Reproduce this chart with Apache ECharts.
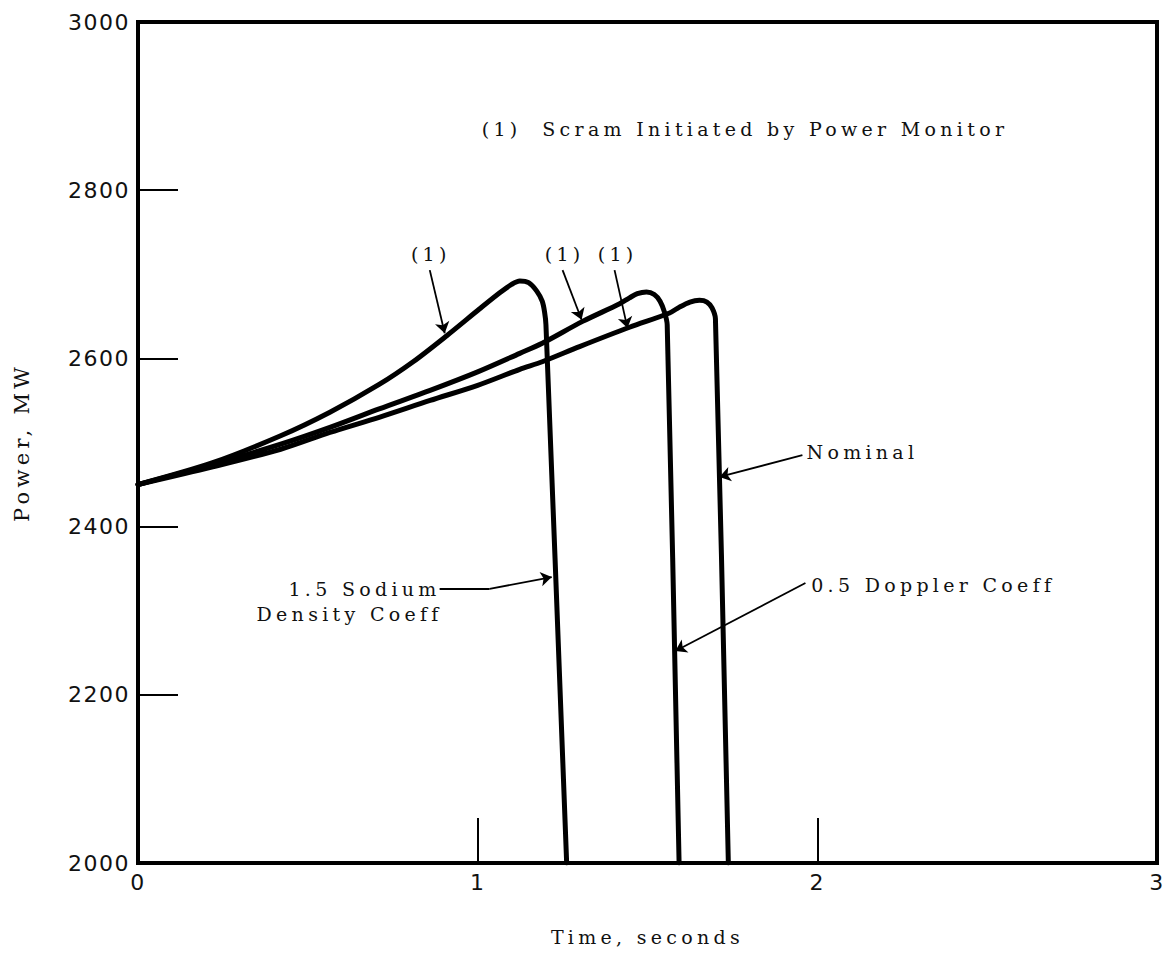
<!DOCTYPE html>
<html><head><meta charset="utf-8">
<script src="https://cdn.jsdelivr.net/npm/echarts@6/dist/echarts.min.js"></script>
<style>
html,body{margin:0;padding:0;background:#fff}
#c{width:1167px;height:953px}
#c text[style*="Serif"]{letter-spacing:4.3px;font-family:"DejaVu Serif",serif !important}
#c text[style*="DejaVu Sans"]{letter-spacing:1.5px}
</style>
</head><body><div id="c"></div><script>
// Axis ranges / ticks
const xRange = [0, 3];      // seconds, tick every 1
const yRange = [2000, 3000]; // MW, tick every 200

// Curve: 1.5 Sodium Density Coeff
const sodiumTime  = [0, 0.22, 0.42, 0.565, 0.71, 0.81, 0.909, 1.006, 1.065, 1.10, 1.124, 1.15, 1.174, 1.19, 1.197, 1.201, 1.262];
const sodiumPower = [2450, 2476, 2508, 2536, 2569, 2596, 2627, 2659, 2678, 2688, 2692, 2690, 2680, 2668, 2655, 2640, 2000];

// Curve: 0.5 Doppler Coeff
const dopplerTime  = [0, 0.22, 0.42, 0.565, 0.71, 0.86, 1.0, 1.124, 1.19, 1.309, 1.418, 1.447, 1.47, 1.497, 1.52, 1.537, 1.55, 1.558, 1.593];
const dopplerPower = [2450, 2474, 2498, 2518, 2540, 2562, 2584, 2606, 2618, 2644, 2665, 2672, 2677, 2679, 2676, 2668, 2655, 2640, 2000];

// Curve: Nominal
const nominalTime  = [0, 0.22, 0.42, 0.565, 0.71, 0.86, 1.0, 1.124, 1.19, 1.3, 1.447, 1.565, 1.594, 1.625, 1.653, 1.675, 1.69, 1.70, 1.738];
const nominalPower = [2450, 2471, 2492, 2512, 2530, 2550, 2568, 2587, 2596, 2614, 2637, 2654, 2661, 2667, 2669, 2667, 2660, 2647, 2000];

// Annotation texts (data-space anchors)
const noteTexts = ['(1)', '(1)', '(1)', '(1)  Scram Initiated by Power Monitor', 'Nominal', '0.5 Doppler Coeff', '1.5 Sodium', 'Density Coeff'];
const noteTime  = [0.862, 1.256, 1.412, 1.012, 1.968, 1.982, 0.891, 0.897];
const notePower = [2724, 2724, 2724, 2873, 2489, 2331, 2326, 2296];
const noteAlign = ['center', 'center', 'center', 'left', 'left', 'left', 'right', 'right'];

// Leader segments without arrowhead: from (t,P) to (t,P)
const leaderFrom = [[0.888, 2326]];
const leaderTo   = [[1.035, 2326]];
// Arrows: from (t,P) to (t,P)
const arrowFrom = [[0.859, 2705], [1.25, 2705], [1.403, 2705], [1.956, 2485], [1.965, 2333], [1.035, 2326]];
const arrowTo   = [[0.903, 2630], [1.306, 2646], [1.441, 2636], [1.712, 2459], [1.582, 2252], [1.218, 2340]];

const zip = (a, b) => a.map((v, i) => [v, b[i]]);
const FONT_SERIF = 'DejaVu Serif';
const FONT_TICK = 'DejaVu Sans';

const chart = echarts.init(document.getElementById('c'), null, {renderer: 'svg'});

function curve(name, t, p) {
  return {
    name, type: 'line', data: zip(t, p), showSymbol: false, smooth: 0.3,
    lineStyle: {color: '#000', width: 5, join: 'round', cap: 'round'}, silent: true, animation: false, z: 3
  };
}

const markData = arrowFrom.map((f, i) => [{coord: f}, {coord: arrowTo[i]}])
  .concat(leaderFrom.map((f, i) => [{coord: f, symbol: 'none'}, {coord: leaderTo[i], symbol: 'none'}]));

const arrowSeries = {
  type: 'line', data: [], silent: true, animation: false,
  markLine: {
    silent: true, animation: false, symbol: ['none', 'arrow'], symbolSize: 11,
    label: {show: false},
    lineStyle: {color: '#000', width: 1.8, type: 'solid'},
    emphasis: {disabled: true},
    data: markData
  }
};

chart.setOption({
  animation: false,
  backgroundColor: '#fff',
  grid: {left: 138, right: 10, top: 22, bottom: 90, show: true, borderColor: '#000', borderWidth: 4, containLabel: false},
  xAxis: {
    type: 'value', min: xRange[0], max: xRange[1], interval: 1,
    name: 'Time, seconds', nameLocation: 'middle', nameGap: 64,
    nameTextStyle: {fontFamily: FONT_SERIF, fontSize: 19, color: '#111'},
    axisLine: {show: false}, splitLine: {show: false},
    axisTick: {show: true, inside: true, length: 45, lineStyle: {color: '#000', width: 2}},
    axisLabel: {margin: 8, fontFamily: FONT_TICK, fontSize: 22, color: '#111', formatter: v => String(v)}
  },
  yAxis: {
    type: 'value', min: yRange[0], max: yRange[1], interval: 200,
    name: 'Power, MW', nameLocation: 'middle', nameGap: 106, nameRotate: 90,
    nameTextStyle: {fontFamily: FONT_SERIF, fontSize: 21, color: '#111'},
    axisLine: {show: false}, splitLine: {show: false},
    axisTick: {show: true, inside: true, length: 40, lineStyle: {color: '#000', width: 2}},
    axisLabel: {margin: 8, fontFamily: FONT_TICK, fontSize: 22, color: '#111', formatter: v => String(v)}
  },
  series: [
    curve('1.5 Sodium Density Coeff', sodiumTime, sodiumPower),
    curve('0.5 Doppler Coeff', dopplerTime, dopplerPower),
    curve('Nominal', nominalTime, nominalPower),
    arrowSeries
  ]
});

const graphics = noteTexts.map((txt, i) => {
  const pt = chart.convertToPixel({gridIndex: 0}, [noteTime[i], notePower[i]]);
  return {
    type: 'text', x: pt[0], y: pt[1], silent: true, z: 10,
    style: {text: txt, fontFamily: FONT_SERIF, fontSize: 19, fill: '#111', align: noteAlign[i], verticalAlign: 'middle'}
  };
});
chart.setOption({graphic: graphics});
</script></body></html>
